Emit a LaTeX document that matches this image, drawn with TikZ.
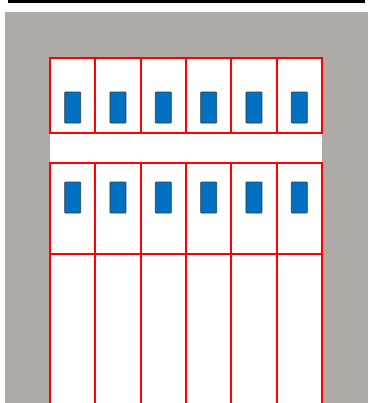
\documentclass[tikz,border=0pt]{standalone}
\usepackage{xcolor}
\usepackage{tikz}
\usetikzlibrary{positioning}

\definecolor{wallgray}{RGB}{173,170,168}
\definecolor{slotblue}{RGB}{0,112,192}
\definecolor{slotedge}{RGB}{50,60,75}

\begin{document}
\begin{tikzpicture}[
    x=0.025cm, y=-0.025cm,
    cell/.style={draw=red, line width=1.4pt, minimum width=1.133cm, inner sep=0pt, outer sep=0pt},
    slot/.style={draw=slotedge, line width=0.5pt, fill=slotblue, rounded corners=0.5pt, minimum width=0.4cm, minimum height=0.775cm, inner sep=0pt}
]
    \useasboundingbox (0,0) rectangle (369,403);
    \clip (0,0) rectangle (369,403);

    % cabinet frame
    \fill[wallgray] (5,12) rectangle (368,420);
    \draw[line width=2pt] (9,-10) rectangle (364,1.2);
    \fill[white] (50,58) rectangle (322,420);

    % rows of cells with slots
    \foreach \i in {1,...,6} {
        \node (top\i) [cell, minimum height=1.875cm] at ({50+(\i-0.5)*45.33}, 95.5) {};
        \node (mid\i) [cell, minimum height=2.275cm] at ({50+(\i-0.5)*45.33}, 208.5) {};
        \node (low\i) [cell, minimum height=4.15cm] at ({50+(\i-0.5)*45.33}, 337) {};
        \node (topslot\i) [slot] at ({50+(\i-0.5)*45.33}, 107.5) {};
        \node (midslot\i) [slot] at ({50+(\i-0.5)*45.33}, 197.5) {};
    }
\end{tikzpicture}
\end{document}
